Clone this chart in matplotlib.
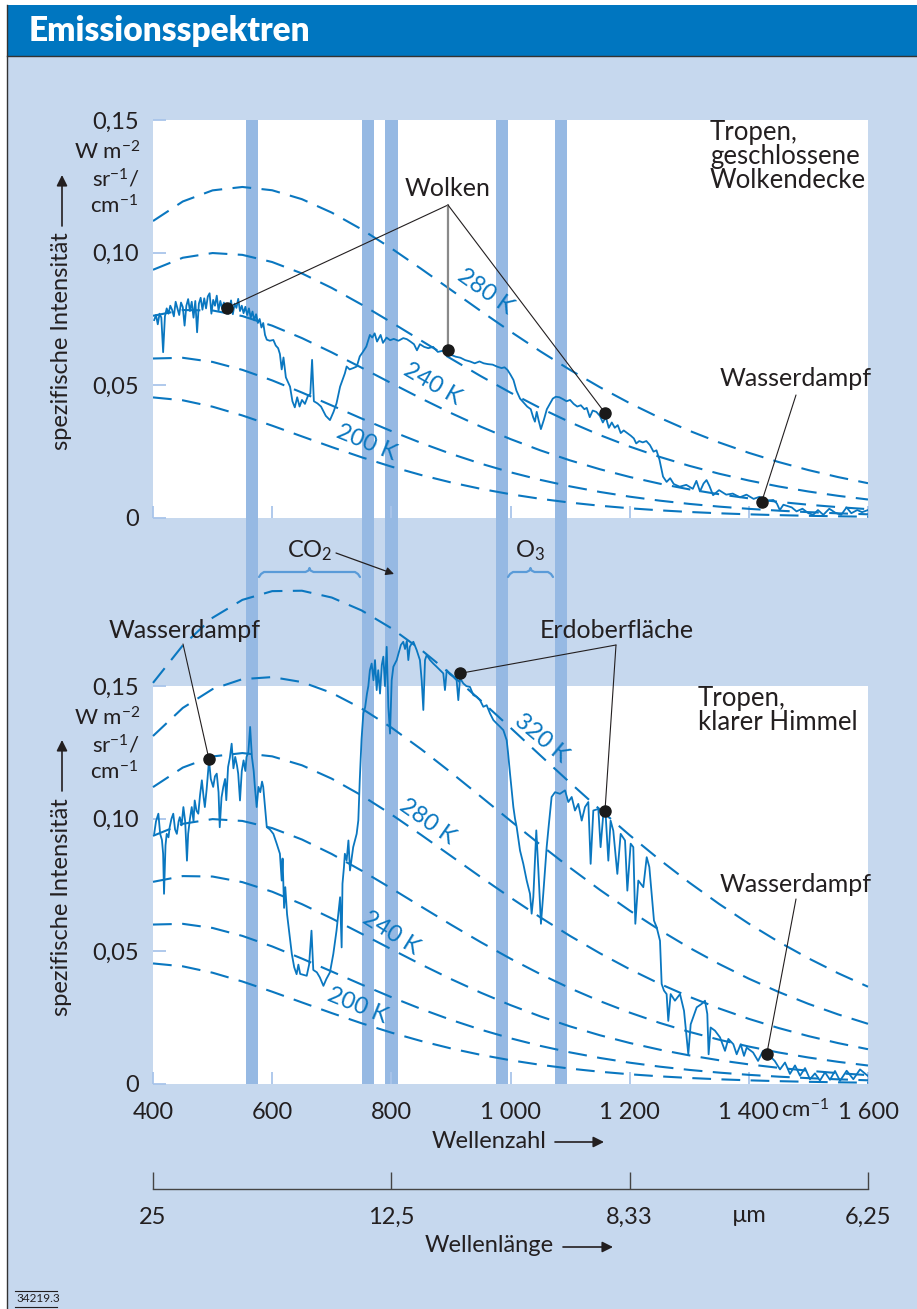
import matplotlib
matplotlib.use('Agg')
import matplotlib.pyplot as plt
from matplotlib.patches import Rectangle

plt.rcParams['font.family'] = ['Lato', 'DejaVu Sans']
plt.rcParams['mathtext.fontset'] = 'custom'
plt.rcParams['mathtext.rm'] = 'Lato'
plt.rcParams['mathtext.it'] = 'Lato:italic'
plt.rcParams['mathtext.bf'] = 'Lato:bold'

# ---------------- data ----------------
# blackbody reference curves (W m-2 sr-1 / cm-1) sampled every 50 cm-1
bb_nu = [400, 450, 500, 550, 600, 650, 700, 750, 800, 850, 900, 950, 1000,
         1050, 1100, 1150, 1200, 1250, 1300, 1350, 1400, 1450, 1500, 1550, 1600]
bb_200 = [.04545, .04436, .04195, .03864, .03480, .03075, .02673, .02290, .01937, .01620, .01341, .01100, .008952,
          .007231, .005801, .004626, .003667, .002893, .002271, .001775, .001381, .001071, .000827, .000637, .000489]
bb_220 = [.06011, .06038, .05882, .05583, .05186, .04728, .04241, .03750, .03275, .02829, .02419, .02050, .01723,
          .014375, .011915, .009816, .008040, .006553, .005314, .004291, .003451, .002765, .002207, .001756, .001393]
bb_240 = [.07621, .07838, .07821, .07610, .07249, .06780, .06241, .05666, .05081, .04506, .03957, .03444, .02974,
          .02550, .02171, .01838, .01547, .012954, .010796, .008958, .007402, .006094, .004999, .004087, .003331]
bb_260 = [.09355, .09809, .09986, .09917, .09647, .09217, .08670, .08045, .07375, .06688, .06007, .05348, .04724,
          .04143, .03609, .03126, .02692, .02306, .01967, .01670, .01412, .01189, .009984, .008353, .006967]
bb_280 = [.11192, .11929, .12348, .12476, .12352, .12015, .11510, .10880, .10163, .09392, .08598, .07803, .07027,
          .06283, .05581, .04929, .04328, .03782, .03289, .02848, .02456, .02110, .01806, .01541, .01311]
bb_300 = [.13119, .14177, .14887, .15263, .15340, .15152, .14743, .14158, .13439, .12623, .11746, .10838, .09923,
          .09022, .08150, .07319, .06537, .05810, .05139, .04526, .03970, .03470, .03021, .02622, .02269]
bb_320 = [.15121, .16535, .17577, .18251, .18580, .18596, .18339, .17854, .17182, .16368, .15448, .14458, .13430,
          .12389, .11356, .10349, .09380, .08460, .07595, .06789, .06044, .05361, .04739, .04175, .03667]

top_curves = [bb_200, bb_220, bb_240, bb_260, bb_280]
bot_curves = [bb_200, bb_220, bb_240, bb_260, bb_280, bb_300, bb_320]

# measured spectrum: tropics, closed cloud cover
cloud_nu = [402, 405, 408, 411, 414, 417, 420, 423, 426, 429,
            432, 435, 438, 441, 444, 447, 450, 453, 456, 459,
            462, 465, 468, 471, 474, 477, 480, 483, 486, 489,
            492, 495, 498, 501, 504, 507, 510, 513, 516, 519,
            522, 525, 528, 531, 534, 537, 540, 543, 546, 549,
            552, 555, 558, 561, 564, 567, 570, 573, 576, 579,
            582, 585, 588, 591, 596, 602, 606, 610, 613, 616,
            619, 623, 627, 630, 634, 638, 642, 646, 650, 655,
            660, 664, 667, 670, 676, 682, 690, 697, 703, 708,
            714, 718, 722, 725, 730, 736, 742, 747, 752, 758,
            764, 768, 772, 776, 782, 786, 792, 798, 804, 812,
            820, 826, 832, 838, 843, 848, 855, 862, 870, 878,
            886, 893, 900, 908, 916, 924, 932, 940, 948, 955,
            962, 970, 978, 985, 990, 995, 1000, 1005, 1010, 1016,
            1022, 1028, 1034, 1038, 1041, 1044, 1047, 1051, 1056, 1061,
            1066, 1071, 1076, 1082, 1088, 1094, 1100, 1106, 1112, 1118,
            1124, 1128, 1133, 1138, 1144, 1150, 1155, 1160, 1165, 1170,
            1175, 1180, 1185, 1190, 1196, 1202, 1207, 1211, 1216, 1222,
            1228, 1234, 1240, 1245, 1250, 1256, 1262, 1268, 1274, 1284,
            1295, 1306, 1312, 1318, 1324, 1329, 1334, 1340, 1350, 1362,
            1373, 1385, 1396, 1408, 1418, 1430, 1441, 1447, 1452, 1458,
            1465, 1472, 1480, 1490, 1500, 1508, 1516, 1525, 1535, 1545,
            1555, 1564, 1572, 1582, 1590, 1600]
cloud_val = [.0746, .0765, .0730, .0770, .0755, .0625, .0760, .0790, .0770, .0800,
             .0785, .0760, .0815, .0790, .0765, .0812, .0795, .0725, .0800, .0825,
             .0780, .0815, .0755, .0818, .0700, .0808, .0830, .0785, .0828, .0790,
             .0835, .0847, .0770, .0822, .0800, .0838, .0782, .0818, .0790, .0812,
             .0775, .0805, .0785, .0820, .0768, .0808, .0792, .0826, .0780, .0800,
             .0772, .0796, .0765, .0790, .0755, .0778, .0745, .0768, .0735, .0750,
             .0718, .0735, .0690, .0672, .0668, .0671, .0650, .0640, .0618, .0560,
             .0605, .0530, .0510, .0495, .0440, .0417, .0455, .0420, .0445, .0430,
             .0460, .0468, .0596, .0440, .0432, .0420, .0385, .0369, .0400, .0432,
             .0495, .0520, .0545, .0571, .0560, .0565, .0571, .0609, .0625, .0646,
             .0690, .0680, .0696, .0665, .0690, .0660, .0680, .0670, .0675, .0668,
             .0678, .0674, .0665, .0655, .0632, .0655, .0645, .0640, .0645, .0626,
             .0630, .0621, .0615, .0608, .0604, .0595, .0590, .0583, .0590, .0583,
             .0580, .0578, .0570, .0565, .0568, .0558, .0540, .0520, .0480, .0450,
             .0435, .0420, .0410, .0380, .0363, .0400, .0370, .0335, .0370, .0410,
             .0430, .0450, .0457, .0455, .0448, .0440, .0445, .0430, .0420, .0425,
             .0410, .0415, .0380, .0405, .0400, .0385, .0360, .0380, .0340, .0360,
             .0340, .0350, .0320, .0330, .0320, .0310, .0300, .0281, .0290, .0285,
             .0290, .0275, .0250, .0255, .0220, .0156, .0136, .0150, .0128, .0118,
             .0125, .0110, .0140, .0100, .0130, .0143, .0120, .0086, .0105, .0088,
             .0092, .0078, .0088, .0072, .0080, .0065, .0068, .0055, .0030, .0050,
             .0045, .0040, .0025, .0035, .0018, .0012, .0030, .0012, .0035, .0020,
             .0012, .0040, .0018, .0030, .0022, .0030]

# measured spectrum: tropics, clear sky
clear_nu = [402, 405, 409, 412, 415, 417, 418.5, 421, 423, 426,
            428, 431, 434, 437, 440, 443, 445, 448, 451, 454,
            457, 459, 462, 465, 468, 470, 473, 476, 479, 482,
            485, 487, 490, 494, 497, 501, 504, 507, 510, 512,
            515, 518, 521, 523, 526, 529, 532, 535, 538, 541,
            543, 546, 549, 552, 555, 557, 560, 563, 566, 569,
            571, 574, 577, 580, 583, 585, 588, 591, 596, 602,
            607.6, 613, 616, 617.5, 620, 622, 625, 629, 633, 637,
            641, 644, 647, 652, 658, 662, 666, 669, 675, 680,
            686, 691, 697, 702.6, 708, 711, 714, 716.6, 718, 720.5,
            722, 725, 728, 730.6, 736, 741.8, 744.6, 747, 750, 753,
            756, 759, 761.4, 764, 767, 770, 772.6, 775.4, 778, 781,
            784, 786.6, 789.4, 792.2, 795, 797.8, 800.6, 803.4, 809, 812,
            816, 820, 823, 826, 828.5, 831, 834, 837, 842.5, 848,
            851, 853.7, 856.5, 859.3, 865, 870.4, 876, 881.7, 887.2, 890,
            893, 898, 904, 909.6, 912.4, 915.3, 920.8, 926, 932, 937.6,
            943.2, 948.8, 954.4, 960, 965.6, 971.2, 976.8, 982.4, 988, 993.6,
            996, 999.2, 1004.8, 1007.6, 1010.4, 1016, 1021.5, 1027.2, 1032.7, 1035.5,
            1038.3, 1043.3, 1046.7, 1051.1, 1055, 1060.7, 1063.9, 1069, 1074.7, 1083,
            1091.5, 1097, 1102.7, 1108.2, 1113.8, 1119.5, 1125, 1130.6, 1134.5, 1139,
            1147.4, 1151.2, 1155.8, 1159.6, 1164.2, 1168, 1172.5, 1179.3, 1184.9, 1192.2,
            1196.1, 1201.7, 1206.1, 1209.5, 1214.5, 1222.9, 1228.6, 1233, 1236.9, 1240.8,
            1245.3, 1250.9, 1253.7, 1257.6, 1262, 1264.8, 1268.8, 1276, 1284.5, 1291.2,
            1298.4, 1302.4, 1312.5, 1320.8, 1326.4, 1330.3, 1332.5, 1335.9, 1343.2, 1351.6,
            1360, 1365.6, 1374, 1379.6, 1386.3, 1391.9, 1396.4, 1407.1, 1415.5, 1423.9,
            1432.3, 1443.5, 1452.3, 1460.7, 1469, 1477.5, 1485.9, 1494.3, 1502.6, 1511,
            1519.4, 1527.8, 1536.2, 1544.6, 1553, 1564.2, 1575.4, 1586.6, 1600]
clear_val = [.0943, .0990, .1019, .0943, .0920, .0868, .0717, .0900, .0943, .0930,
             .0968, .1000, .1019, .0960, .0943, .0990, .1006, .0975, .1044, .0990,
             .0842, .0943, .1000, .1044, .0990, .1069, .1030, .1019, .1090, .1145,
             .1080, .1044, .1110, .1220, .1150, .1120, .1160, .1170, .1100, .0968,
             .1080, .1120, .1150, .1070, .1195, .1230, .1283, .1190, .1233, .1200,
             .1170, .1069, .1180, .1220, .1180, .1233, .1250, .1346, .1233, .1180,
             .1120, .1044, .1120, .1100, .1140, .1120, .1044, .0968, .0960, .0943,
             .0906, .0868, .0767, .0850, .0664, .0742, .0640, .0566, .0490, .0440,
             .0414, .0450, .0415, .0412, .0408, .0450, .0578, .0430, .0421, .0402,
             .0370, .0396, .0421, .0490, .0578, .0641, .0704, .0515, .0755, .0818,
             .0868, .0843, .0918, .0805, .0893, .0943, .0994, .1145, .1300, .1397,
             .1420, .1470, .1500, .1560, .1585, .1522, .1598, .1485, .1560, .1472,
             .1580, .1611, .1500, .1648, .1422, .1321, .1522, .1573, .1598, .1623,
             .1655, .1667, .1640, .1670, .1598, .1648, .1660, .1667, .1636, .1598,
             .1520, .1410, .1598, .1617, .1598, .1585, .1573, .1560, .1548, .1485,
             .1560, .1545, .1535, .1522, .1447, .1530, .1510, .1500, .1497, .1466,
             .1460, .1447, .1422, .1428, .1397, .1372, .1359, .1347, .1334, .1296,
             .1246, .1170, .1044, .1000, .0968, .0880, .0830, .0767, .0717, .0642,
             .0705, .0956, .0810, .0604, .0717, .0893, .0968, .1082, .1100, .1094,
             .1107, .1063, .1082, .1031, .1056, .0993, .1044, .1063, .0830, .1031,
             .1037, .0893, .1019, .1019, .0842, .0993, .0955, .0792, .0943, .0918,
             .0729, .0906, .0893, .0604, .0767, .0742, .0855, .0818, .0717, .0616,
             .0591, .0540, .0377, .0352, .0339, .0238, .0339, .0314, .0339, .0276,
             .0112, .0225, .0289, .0302, .0314, .0264, .0112, .0213, .0201, .0176,
             .0125, .0170, .0150, .0112, .0150, .0106, .0137, .0119, .0087, .0125,
             .0112, .0087, .0055, .0081, .0038, .0070, .0031, .0060, .0018, .0040,
             .0013, .0044, .0016, .0049, .0012, .0050, .0018, .0055, .0030]

# absorption bands (cm-1): start, end
band_lo = [556, 751, 790, 975, 1074]
band_hi = [577, 771, 811, 995, 1094]

wn_ticks = [400, 600, 800, 1000, 1200, 1400, 1600]
wn_labels = ['400', '600', '800', '1 000', '1 200', '1 400', '1 600']
wl_ticks_um = [25, 12.5, 8.333, 6.25]
wl_labels = ['25', '12,5', '8,33', '6,25']
y_ticks = [0, 0.05, 0.10, 0.15]
y_labels = ['0', '0,05', '0,10', '0,15']

# annotated points (cm-1, intensity)
cloud_pts_nu = [524, 895, 1158.6]
cloud_pts_val = [0.0792, 0.0633, 0.0396]
top_wv_nu, top_wv_val = 1421.6, 0.0061
clear_wv_nu, clear_wv_val = 494, 0.1224
ground_nu = [915.3, 1158.6]
ground_val = [0.1548, 0.1031]
clear_wv2_nu, clear_wv2_val = 1430, 0.0112

# ---------------- style ----------------
BLUE = '#0a77c0'
BG = '#c6d8ee'
BAND = '#96b9e3'
TICK = '#a9c5ea'
INK = '#231f20'

W, H = 917, 1309
fig = plt.figure(figsize=(W / 100, H / 100), dpi=100)
fig.patch.set_facecolor('white')


def box(x0, y0, x1, y1):
    return [x0 / W, 1 - y1 / H, (x1 - x0) / W, (y1 - y0) / H]


# base layer (pixel coordinates)
base = fig.add_axes([0, 0, 1, 1], zorder=-5)
base.set_xlim(0, W)
base.set_ylim(H, 0)
base.axis('off')
base.add_patch(Rectangle((7, 56), W - 7, H - 56, facecolor=BG, edgecolor='none'))
base.add_patch(Rectangle((7, 5), W - 7, 51, facecolor='#0076c0', edgecolor='none'))
base.plot([7, W], [56, 56], color='#333333', lw=1.0)
base.plot([7, 7], [5, H], color='#333333', lw=1.0)

# data axes
ax_top = fig.add_axes(box(153, 120, 868, 518), zorder=2)
ax_bot = fig.add_axes(box(153, 580, 868, 1084), zorder=2)
ax_top.set_ylim(0, 0.15)
ax_bot.set_ylim(0, 0.19)
for ax in (ax_top, ax_bot):
    ax.set_facecolor('none')
    ax.set_xlim(400, 1600)
    for s in ax.spines.values():
        s.set_visible(False)
    ax.set_xticks(wn_ticks)
    ax.set_yticks(y_ticks)
    ax.set_yticklabels(y_labels)
    ax.tick_params(axis='both', direction='in', length=9, width=1.3, color=TICK,
                   labelsize=17, labelcolor=INK)
    ax.tick_params(axis='y', pad=10)
ax_top.tick_params(axis='x', labelbottom=False)
ax_bot.set_xticklabels(wn_labels)
ax_bot.tick_params(axis='x', pad=13)

# bands + white plot areas
bands = fig.add_axes(box(153, 120, 868, 1084), zorder=1)
bands.set_xlim(400, 1600)
bands.set_ylim(0, 1)
bands.axis('off')
for ax, top in ((ax_top, 0.15), (ax_bot, 0.15)):
    r = Rectangle((400, 0), 1200, top, transform=ax.transData,
                  facecolor='white', edgecolor='none')
    bands.add_patch(r)
for lo, hi in zip(band_lo, band_hi):
    bands.axvspan(lo, hi, color=BAND, lw=0)

# blackbody curves
for c in top_curves:
    ax_top.plot(bb_nu, c, color=BLUE, lw=1.5, ls=(0, (9, 5)))
for c in bot_curves:
    ax_bot.plot(bb_nu, c, color=BLUE, lw=1.5, ls=(0, (9, 5)), clip_on=False)

# spectra
ax_top.plot(cloud_nu, cloud_val, color=BLUE, lw=1.3)
ax_bot.plot(clear_nu, clear_val, color=BLUE, lw=1.3)

# overlay (pixel coords) for text
ov = fig.add_axes([0, 0, 1, 1], zorder=5)
ov.set_xlim(0, W)
ov.set_ylim(H, 0)
ov.axis('off')

ov.text(29, 41, 'Emissionsspektren', color='white', fontsize=24,
        fontweight='heavy', va='baseline', ha='left')

# y-axis labels
for yc, arrow_from, arrow_to in ((341, 226, 175), (907, 791, 740)):
    ov.text(62, yc, 'spezifische Intensität', rotation=90, ha='center',
            va='center', fontsize=17, color=INK)
    ov.annotate('', xy=(62, arrow_to), xytext=(62, arrow_from),
                arrowprops=dict(arrowstyle='-|>', color=INK, lw=1.2,
                                mutation_scale=16, shrinkA=0, shrinkB=0))
for y0 in (152, 718):
    ov.text(140, y0, r'W m$^{-2}$', ha='right', va='center', fontsize=16, color=INK)
    ov.text(140, y0 + 27, r'sr$^{-1}$/', ha='right', va='center', fontsize=16, color=INK)
    ov.text(138, y0 + 54, r'cm$^{-1}$', ha='right', va='center', fontsize=16, color=INK)

# x-axis label extras
ov.text(781, 1110, r'cm$^{-1}$', ha='left', va='center', fontsize=16, color=INK)
ov.text(432, 1141, 'Wellenzahl', ha='left', va='center', fontsize=17, color=INK)
ov.annotate('', xy=(604, 1142), xytext=(555, 1142),
            arrowprops=dict(arrowstyle='-|>', color=INK, lw=1.2,
                            mutation_scale=16, shrinkA=0, shrinkB=0))
ov.text(425, 1246, 'Wellenlänge', ha='left', va='center', fontsize=17, color=INK)
ov.annotate('', xy=(613, 1247), xytext=(563, 1247),
            arrowprops=dict(arrowstyle='-|>', color=INK, lw=1.2,
                            mutation_scale=16, shrinkA=0, shrinkB=0))

# wavelength axis
ax_wl = fig.add_axes(box(153, 1174, 868, 1189), zorder=2)
ax_wl.set_facecolor('none')
ax_wl.set_xlim(400, 1600)
for k, s in ax_wl.spines.items():
    s.set_visible(k == 'bottom')
ax_wl.spines['bottom'].set_color('#444444')
ax_wl.spines['bottom'].set_linewidth(1.0)
ax_wl.set_yticks([])
ax_wl.set_xticks([10000.0 / w for w in wl_ticks_um])
ax_wl.set_xticklabels(wl_labels)
ax_wl.tick_params(axis='x', direction='in', length=12, width=1.0, color='#444444',
                  pad=13, labelsize=17, labelcolor=INK)
ov.text(749, 1216, 'µm', ha='center', va='center', fontsize=17, color=INK)

# panel titles
ov.text(710, 120, 'Tropen,\ngeschlossene\nWolkendecke', ha='left', va='top',
        fontsize=18.5, color=INK, linespacing=0.95)
ov.text(698, 686, 'Tropen,\nklarer Himmel', ha='left', va='top',
        fontsize=18.5, color=INK, linespacing=0.95)

# curve labels
for x, y, t, rot in ((485, 292, '280 K', -35), (432, 384, '240 K', -30), (367, 443, '200 K', -22),
                     (541, 738, '320 K', -40), (427, 822, '280 K', -35), (391, 933, '240 K', -32),
                     (358, 1006, '200 K', -22)):
    ov.text(x, y, t, rotation=rot, ha='center', va='center', fontsize=17,
            color=BLUE, rotation_mode='anchor')

# CO2 / O3 braces
def brace(x0, x1, y):
    xm = (x0 + x1) / 2
    xs = [x0, x0 + 2, x0 + 5, xm - 4, xm - 1, xm, xm + 1, xm + 4, x1 - 5, x1 - 2, x1]
    ys = [y + 5, y + 2, y, y, y - 1.5, y - 4, y - 1.5, y, y, y + 2, y + 5]
    ov.plot(xs, ys, color='#5a9bd8', lw=1.6, solid_capstyle='round')


brace(259, 360, 572)
brace(508, 553, 572)
ov.text(310, 551, r'CO$_2$', ha='center', va='center', fontsize=17, color=INK)
ov.text(530, 551, r'O$_3$', ha='center', va='center', fontsize=17, color=INK)
ov.annotate('', xy=(394, 574), xytext=(336, 553),
            arrowprops=dict(arrowstyle='-|>', color=INK, lw=0.9,
                            mutation_scale=12, shrinkA=0, shrinkB=0))

# annotations
def callout(ax, nu, val, tx, ty, color=INK, lw=0.8):
    ax.annotate('', xy=(nu, val), xycoords='data', xytext=(tx, ty),
                textcoords=ov.transData,
                arrowprops=dict(arrowstyle='-', color=color, lw=lw,
                                shrinkA=0, shrinkB=0), annotation_clip=False)
    ax.plot([nu], [val], 'o', color='#1a1a1a', ms=8, zorder=6, clip_on=False)


ov.text(448, 188, 'Wolken', ha='center', va='center', fontsize=18, color=INK)
callout(ax_top, cloud_pts_nu[0], cloud_pts_val[0], 448, 205)
callout(ax_top, cloud_pts_nu[1], cloud_pts_val[1], 448, 205, color='#8a8a8a', lw=1.6)
callout(ax_top, cloud_pts_nu[2], cloud_pts_val[2], 448, 205)

ov.text(796, 379, 'Wasserdampf', ha='center', va='center', fontsize=18, color=INK)
callout(ax_top, top_wv_nu, top_wv_val, 796, 395)

ov.text(185, 630, 'Wasserdampf', ha='center', va='center', fontsize=18, color=INK)
callout(ax_bot, clear_wv_nu, clear_wv_val, 183, 644)

ov.text(617, 630, 'Erdoberfläche', ha='center', va='center', fontsize=18, color=INK)
callout(ax_bot, ground_nu[0], ground_val[0], 616, 645)
callout(ax_bot, ground_nu[1], ground_val[1], 616, 645)

ov.text(796, 884, 'Wasserdampf', ha='center', va='center', fontsize=18, color=INK)
callout(ax_bot, clear_wv2_nu, clear_wv2_val, 796, 899)

# footer id
ov.text(16, 1299, '34219.3', ha='left', va='center', fontsize=8.5, color=INK)
ov.plot([15, 57], [1291, 1291], color=INK, lw=0.8)
ov.plot([15, 57], [1307, 1307], color=INK, lw=0.8)

fig.savefig('out.png', dpi=100, facecolor=fig.get_facecolor())
